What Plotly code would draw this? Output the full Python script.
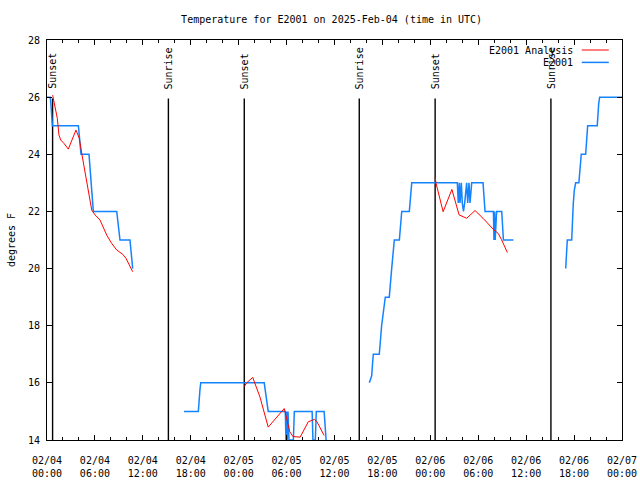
import pandas as pd
import plotly.graph_objects as go

# ---------------- data ----------------
base_time = pd.Timestamp("2025-02-04 00:00")

# E2001 observations (hours after base_time, degrees F); None = gap
obs_hours = [
    0.0, 0.41, 0.5, 0.58, 0.67, 3.93, 4.05, 4.15, 4.26, 5.26, 5.33, 5.45, 5.51, 5.68, 5.8,
    8.73, 8.85, 9.0, 9.14, 10.39, 10.5, 10.6, 10.73,
    None,
    17.15, 18.95, 19.15, 19.25, 27.2, 27.42, 27.58, 27.7, 29.84, 29.92, 30.0, 30.08,
    30.18, 30.3, 30.85, 30.97, 33.2, 33.3, 33.6, 33.72, 34.7, 34.95,
    None,
    40.36, 40.66, 40.78, 40.86, 41.61, 41.9, 42.36, 42.86, 43.16, 43.49, 44.12, 44.42,
    45.37, 45.67, 51.38, 51.5, 51.63, 51.72, 51.88, 52.0, 52.15, 52.3, 52.55, 52.68,
    52.84, 52.97, 53.18, 54.6, 54.85, 55.9, 55.97, 56.05, 56.12, 56.3, 56.94, 57.15, 58.4,
    None,
    64.95, 65.15, 65.7, 65.78, 65.9, 66.03, 66.2, 66.6, 66.7, 66.8, 66.9, 67.45, 67.53,
    67.62, 67.7, 68.9, 68.95, 69.08, 69.2, 72.0,
]
obs_temps = [
    26, 26, 25.72, 25.32, 25, 25, 24.73, 24.33, 24, 24, 23.74, 23.27, 23.04, 22.69, 22,
    22, 21.76, 21.41, 21, 21, 20.71, 20.3, 20,
    None,
    15, 15, 15.75, 16, 16, 15.63, 15.28, 15, 15, 14, 15, 14,
    15, 14, 14, 15, 15, 14, 14, 15, 15, 14,
    None,
    16, 16.25, 16.74, 17, 17, 18, 19, 19, 20, 21, 21, 22,
    22, 23, 23, 22.3, 23, 22.3, 23, 22.3, 22, 22.3, 23, 22.3,
    23, 22.3, 23, 23, 22, 22, 21, 22, 21, 22, 22, 21, 21,
    None,
    20, 21, 21, 21.76, 22.28, 22.75, 23, 23, 23.27, 23.74, 24, 24, 24.27,
    24.73, 25, 25, 25.26, 25.76, 26, 26,
]

# E2001 Analysis (hours after base_time, degrees F); None = gap
ana_hours = [
    0.71, 1.0, 1.29, 1.5, 1.72, 2.13, 2.67, 3.63, 4.04, 4.35, 4.76, 5.17, 5.6, 6.01,
    6.64, 7.48, 8.1, 8.73, 9.48, 9.89, 10.3, 10.73,
    None,
    24.7, 25.0, 25.76, 26.67, 27.7, 29.7, 29.9, 30.4, 30.8, 31.7, 32.72, 33.5, 33.8, 34.7,
    None,
    48.6, 48.72, 49.6, 50.7, 51.6, 52.55, 53.6, 54.6, 55.9, 56.5, 56.9, 57.65,
]
ana_temps = [
    26.07, 25.72, 25.26, 24.67, 24.5, 24.38, 24.18, 24.85, 24.56, 24.03, 23.39, 22.69, 22.05, 21.88,
    21.7, 21.17, 20.88, 20.65, 20.5, 20.36, 20.13, 19.89,
    None,
    15.87, 16.0, 16.19, 15.5, 14.45, 15.1, 14.88, 14.29, 14.12, 14.1, 14.64, 14.72, 14.64, 14.16,
    None,
    23.19, 22.98, 21.99, 22.77, 21.88, 21.76, 22.03, 21.76, 21.37, 21.23, 21.02, 20.56,
]

# sunrise / sunset markers
sun_hours = [0.7, 15.2, 24.7, 39.1, 48.6, 63.1]
sun_labels = ["Sunset", "Sunrise", "Sunset", "Sunrise", "Sunset", "Sunrise"]

# axes
x_tick_hours = [0, 6, 12, 18, 24, 30, 36, 42, 48, 54, 60, 66, 72]
x_tick_labels = [
    "02/04<br>00:00", "02/04<br>06:00", "02/04<br>12:00", "02/04<br>18:00",
    "02/05<br>00:00", "02/05<br>06:00", "02/05<br>12:00", "02/05<br>18:00",
    "02/06<br>00:00", "02/06<br>06:00", "02/06<br>12:00", "02/06<br>18:00",
    "02/07<br>00:00",
]
y_ticks = [14, 16, 18, 20, 22, 24, 26, 28]
y_range = [14, 28]

title_text = "Temperature for E2001 on 2025-Feb-04 (time in UTC)"
y_title = "degrees F"
legend_names = ["E2001 Analysis", "E2001"]

# ---------------- helpers ----------------
def to_time(hours):
    return [None if h is None else base_time + pd.Timedelta(hours=h) for h in hours]

FONT = "DejaVu Sans Mono"
RED = "#ff0000"
BLUE = "#1483ff"

fig = go.Figure()
fig.add_trace(go.Scatter(x=to_time(obs_hours), y=obs_temps, mode="lines",
                         name=legend_names[1], line=dict(color=BLUE, width=1.5),
                         connectgaps=False, showlegend=False))
fig.add_trace(go.Scatter(x=to_time(ana_hours), y=ana_temps, mode="lines",
                         name=legend_names[0], line=dict(color=RED, width=1.0),
                         connectgaps=False, showlegend=False))

# sunrise/sunset vertical lines + rotated labels
for h, lab in zip(sun_hours, sun_labels):
    t = base_time + pd.Timedelta(hours=h)
    fig.add_shape(type="line", xref="x", yref="paper", x0=t, x1=t, y0=0, y1=0.854,
                  line=dict(color="black", width=1.4), layer="below")
    fig.add_annotation(x=t, y=0.872, xref="x", yref="paper", text=lab, showarrow=False,
                       textangle=-90, xanchor="center", yanchor="bottom",
                       font=dict(family=FONT, size=10, color="black"))

# custom gnuplot-style legend (text, then line sample)
for i, (name, col) in enumerate(zip(legend_names, [RED, BLUE])):
    yy = 0.975 - i * 0.031
    fig.add_annotation(x=0.918, y=yy, xref="paper", yref="paper", text=name,
                       showarrow=False, xanchor="right", yanchor="middle",
                       font=dict(family=FONT, size=10, color="black"))
    fig.add_shape(type="line", xref="paper", yref="paper", x0=0.930, x1=0.977,
                  y0=yy, y1=yy, line=dict(color=col, width=1.5 if i else 1.0))

fig.update_layout(
    width=640, height=480,
    margin=dict(l=47, r=18, t=40, b=40, autoexpand=False),
    paper_bgcolor="white", plot_bgcolor="white",
    font=dict(family=FONT, size=10, color="black"),
    title=dict(text=title_text, x=0.495, xref="paper", y=0.96, yref="container",
               xanchor="center", yanchor="middle",
               font=dict(family=FONT, size=10, color="black")),
    showlegend=False,
)
fig.update_xaxes(
    type="date", automargin=False,
    range=[base_time, base_time + pd.Timedelta(hours=72)],
    tickvals=to_time(x_tick_hours), ticktext=x_tick_labels,
    ticks="inside", ticklen=5, tickwidth=1, tickcolor="black",
    minor=dict(ticks="inside", ticklen=3, dtick=2 * 3600 * 1000, tickcolor="black",
               tick0=base_time, showgrid=False),
    showline=True, linecolor="black", linewidth=1, mirror="allticks",
    showgrid=False, zeroline=False, tickangle=0,
    tickfont=dict(family=FONT, size=10, color="black"),
    ticklabelstandoff=11, ticklabeloverflow="allow",
)
fig.update_yaxes(
    automargin=False,
    range=y_range, tickvals=y_ticks,
    ticks="inside", ticklen=5, tickwidth=1, tickcolor="black",
    showline=True, linecolor="black", linewidth=1, mirror="allticks",
    showgrid=False, zeroline=False,
    tickfont=dict(family=FONT, size=10, color="black"),
    ticklabelstandoff=4,
    title=dict(text=y_title, standoff=10, font=dict(family=FONT, size=10, color="black")),
)

# remove the default 8px page margin so the 640x480 figure fills the window exactly
fig.write_html(
    "out.html",
    config={"displayModeBar": False, "staticPlot": True},
    post_script="document.body.style.margin='0px';"
                "document.documentElement.style.overflow='hidden';"
                "document.body.style.overflow='hidden';",
)
